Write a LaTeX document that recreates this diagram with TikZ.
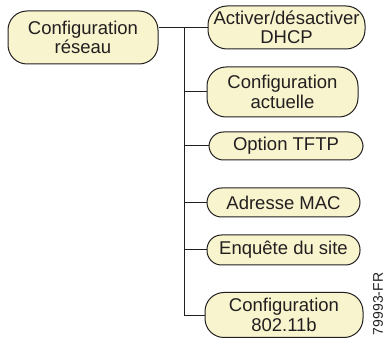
\documentclass[tikz,border=0pt]{standalone}
\usepackage{fontspec}
\setmainfont{Liberation Sans}
\definecolor{boxfill}{RGB}{247,244,206}
\definecolor{ink}{RGB}{35,31,32}
\begin{document}
\begin{tikzpicture}[x=1pt,y=-1pt,
  box/.style={draw=ink, line width=1pt, fill=boxfill, text=ink, align=center,
    inner sep=0pt, font=\fontsize{18.5}{19.5}\selectfont},
  twoline/.style={box, rounded corners=19pt},
  oneline/.style={box, rounded corners=14.5pt},
  conn/.style={draw=ink, line width=1pt}]
\useasboundingbox (0,0) rectangle (389,342);
\node[twoline, minimum width=150pt, minimum height=53pt] (root) at (83,37.5) {Configuration\\r\'eseau};
\node[twoline, minimum width=157pt, minimum height=43pt] (dhcp) at (286.5,27.5) {Activer/d\'esactiver\\DHCP};
\node[twoline, minimum width=151pt, minimum height=50pt] (actu) at (282.5,92) {Configuration\\actuelle};
\node[oneline, minimum width=154pt, minimum height=28pt] (tftp) at (286,146) {Option TFTP};
\node[oneline, minimum width=153pt, minimum height=29pt] (mac) at (283.5,202.5) {Adresse MAC};
\node[oneline, minimum width=153pt, minimum height=30pt] (site) at (283.5,250) {Enqu\^ete du site};
\node[twoline, minimum width=158pt, minimum height=45pt] (wifi) at (284,315) {Configuration\\802.11b};
\coordinate (top) at (184,27.5);
\coordinate (bot) at (184,316);
\draw[conn] (dhcp.west) -- (dhcp.west -| root.east);
\draw[conn] (top) -- (bot);
\foreach \n in {actu,tftp,mac,site}
  \draw[conn] (\n.west) -- (\n.west -| top);
\draw[conn] (bot) -- (bot -| wifi.west);
\node[rotate=90, text=ink, inner sep=0pt, font=\fontsize{14}{14}\selectfont] (code) at (378,304) {79993-FR};
\end{tikzpicture}
\end{document}
